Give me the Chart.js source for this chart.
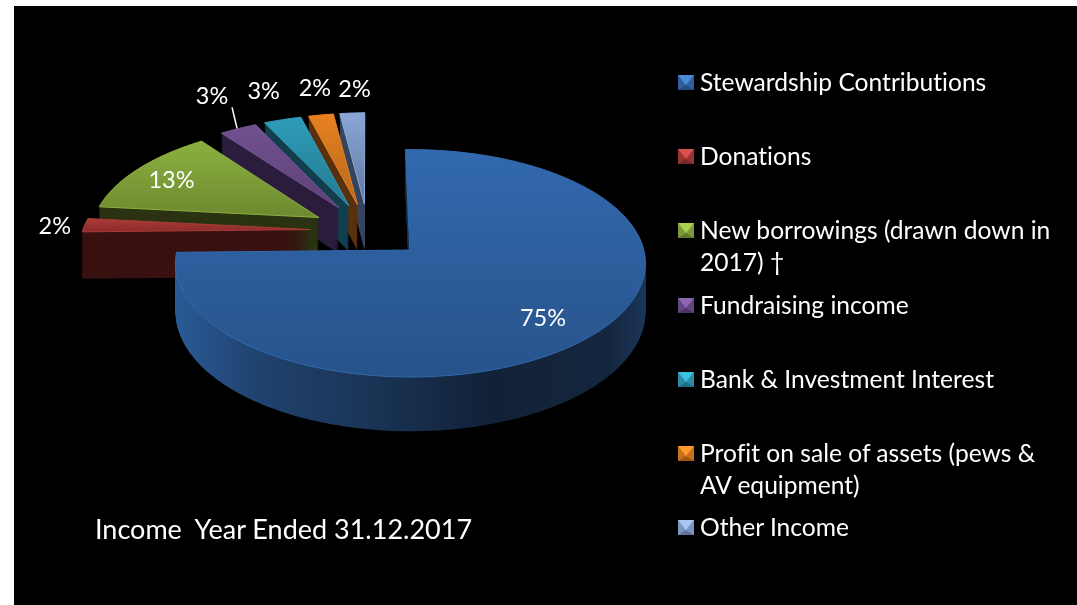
<!DOCTYPE html>
<html>
<head>
<meta charset="utf-8">
<title>Income Year Ended 31.12.2017</title>
<script src="https://cdn.jsdelivr.net/npm/chart.js@4"></script>
<style>
    html, body { margin: 0; padding: 0; background: #fff; overflow: hidden; }
    #fondo { position: absolute; left: 14px; top: 6px; width: 1063px; height: 599px; background: #000; }
    #myChart { position: absolute; left: 0; top: 0; }
    #titulo { position: absolute; left: 95px; top: 512px; color: #fff; font: 27px Lato, sans-serif; white-space: pre; font-variant-ligatures: none; }
    #leyenda { position: absolute; left: 678px; top: 66px; width: 382px; color: #fff; font: 24.6px/32px Lato, sans-serif; font-variant-ligatures: none; }
    .item { position: relative; padding-left: 22px; height: 74.2px; }
    .cuadro { position: absolute; left: 0; top: 9px; width: 0; height: 0; border-style: solid; border-width: 10px 8px 5px; }
</style>
</head>
<body>
<div id="fondo"></div>
<canvas id="myChart" width="1077" height="605"></canvas>
<div id="titulo"></div>
<div id="leyenda"></div>

<script>
// datos del grafico
const titulo = "Income  Year Ended 31.12.2017";
const categorias = ["Stewardship Contributions", "Donations", "New borrowings (drawn down in 2017) †", "Fundraising income", "Bank & Investment Interest", "Profit on sale of assets (pews & AV equipment)", "Other Income"];
const valores = [75, 2, 13, 3, 3, 2, 2];

// colores: cara superior (arriba / abajo), pared y leyenda
const caraArriba = ["#3269ae", "#ab3b39", "#8cb03f", "#71518f", "#2f9cb9", "#e98021", "#8aa7d7"];
const caraAbajo = ["#27538b", "#8a2c2a", "#6e8930", "#5d4177", "#237a90", "#b4691f", "#5f7aa0"];
const pared = ["#1a3557", "#3a1111", "#2b3312", "#2b1d3c", "#123f4d", "#5a300d", "#37465f"];
const cuadroClaro = ["#4a8bd6", "#d9504e", "#a8cf4d", "#8d66b3", "#3cc0e2", "#ff9a30", "#a9c6f2"];
const cuadroMedio = ["#2f5f9e", "#983533", "#7a9a38", "#624784", "#2a8aa3", "#c9701c", "#7c96c2"];
const cuadroOscuro = ["#264d80", "#752826", "#5f7829", "#4b3566", "#1f6b80", "#9c5615", "#5f7598"];

// medidas de la proyeccion 3D (perspectiva del pastel)
const RADIO = 228.5;
const EXPLOSION = 58;
const ALTO = 47;
const CENTRO_X = 368;
const CENTRO_Y = 230.7;
const APLASTADO = 0.471;
const PERSPECTIVA = 0.0005;
const INCLINACION = 0.01;

// posicion de las etiquetas: factor del radio y ajuste fino
const factorEtiqueta = [0.82, 1.12, 0.75, 1.2, 1.2, 1.25, 1.25];
const ajusteEtiqueta = [[-15, 0], [-3, 2], [-10, 0], [-8, -18], [-7, -13], [2, -7], [5, -4]];

function proyectar(arco, x, y, z) {
    let medio = (arco.startAngle + arco.endAngle) / 2;
    let u = x - arco.x + Math.cos(medio) * EXPLOSION;
    let v = y - arco.y + Math.sin(medio) * EXPLOSION;
    let s = 1 / (1 - PERSPECTIVA * v);
    return { x: CENTRO_X + u * s, y: CENTRO_Y + (APLASTADO * v - INCLINACION * u) * s + z * s };
}

// cambia arc/lineTo/moveTo del contexto para que pasen por la proyeccion
function activarProyeccion(ctx, arco, z) {
    const lineTo = CanvasRenderingContext2D.prototype.lineTo;
    const moveTo = CanvasRenderingContext2D.prototype.moveTo;
    ctx.lineTo = function(x, y) {
        let p = proyectar(arco, x, y, z);
        lineTo.call(ctx, p.x, p.y);
    };
    ctx.moveTo = function(x, y) {
        let p = proyectar(arco, x, y, z);
        moveTo.call(ctx, p.x, p.y);
    };
    ctx.arc = function(x, y, r, a0, a1, contrario) {
        let pasos = Math.max(2, Math.ceil(Math.abs(a1 - a0) * 40));
        for (let i = 0; i <= pasos; i++) {
            let a = a0 + (a1 - a0) * i / pasos;
            ctx.lineTo(x + Math.cos(a) * r, y + Math.sin(a) * r);
        }
    };
}

function desactivarProyeccion(ctx) {
    delete ctx.lineTo;
    delete ctx.moveTo;
    delete ctx.arc;
}

function degradadoCara(ctx, arco, i) {
    // el vertice tambien cuenta, si no los sectores chicos quedan con un degradado muy corto
    let vertice = proyectar(arco, arco.x, arco.y, 0);
    let arriba = vertice.y, abajo = vertice.y;
    for (let t = 0; t <= 20; t++) {
        let a = arco.startAngle + (arco.endAngle - arco.startAngle) * t / 20;
        let p = proyectar(arco, arco.x + Math.cos(a) * arco.outerRadius, arco.y + Math.sin(a) * arco.outerRadius, 0);
        arriba = Math.min(arriba, p.y);
        abajo = Math.max(abajo, p.y);
    }
    let g = ctx.createLinearGradient(0, arriba, 0, abajo);
    g.addColorStop(0, caraArriba[i]);
    g.addColorStop(1, caraAbajo[i]);
    return g;
}

function degradadoPared(ctx, i) {
    if (i !== 0) return pared[i];
    // la pared del sector grande cambia de claro a oscuro de izquierda a derecha
    let g = ctx.createLinearGradient(175, 0, 645, 0);
    g.addColorStop(0, "#2a5a96");
    g.addColorStop(0.18, "#20426e");
    g.addColorStop(0.4, "#1a3557");
    g.addColorStop(0.68, "#112137");
    g.addColorStop(0.92, "#14263e");
    g.addColorStop(1, "#1a3557");
    return g;
}

const pastel3d = {
    id: "pastel3d",
    beforeDatasetsDraw(chart) {
        let ctx = chart.ctx;
        let arcos = chart.getDatasetMeta(0).data;
        // de atras hacia adelante: el sector grande va al final
        for (let i = arcos.length - 1; i >= 0; i--) {
            let arco = arcos[i];
            let original = arco.options;
            arco.options = Object.assign({}, original, { backgroundColor: degradadoPared(ctx, i), borderWidth: 0 });
            for (let z = ALTO; z > 0; z--) {
                activarProyeccion(ctx, arco, z);
                arco.draw(ctx);
            }
            arco.options = Object.assign({}, original, { backgroundColor: degradadoCara(ctx, arco, i) });
            activarProyeccion(ctx, arco, 0);
            arco.draw(ctx);
            arco.options = original;
            desactivarProyeccion(ctx);
        }
        return false;
    },
    // afterDraw porque afterDatasetsDraw no corre si se cancela el dibujo normal
    afterDraw(chart) {
        let ctx = chart.ctx;
        let arcos = chart.getDatasetMeta(0).data;
        ctx.save();
        ctx.fillStyle = "#fff";
        ctx.font = "23.5px Lato, sans-serif";
        ctx.textAlign = "center";
        ctx.textBaseline = "middle";
        arcos.forEach((arco, i) => {
            let a = (arco.startAngle + arco.endAngle) / 2;
            let r = arco.outerRadius * factorEtiqueta[i];
            let p = proyectar(arco, arco.x + Math.cos(a) * r, arco.y + Math.sin(a) * r, 0);
            let x = p.x + ajusteEtiqueta[i][0];
            let y = p.y + ajusteEtiqueta[i][1];
            ctx.fillText(valores[i] + "%", x, y);
            // linea guia de la etiqueta del sector morado
            if (i === 3) {
                ctx.strokeStyle = "#fff";
                ctx.lineWidth = 1.5;
                ctx.beginPath();
                ctx.moveTo(x + 20, y + 11);
                ctx.lineTo(x + 25, y + 32);
                ctx.stroke();
            }
        });
        ctx.restore();
    }
};

let ctx = document.getElementById("myChart").getContext("2d");

let miGrafico = new Chart(ctx, {
    type: "pie",
    data: {
        labels: categorias,
        datasets: [{
            data: valores,
            backgroundColor: caraArriba,
            borderColor: caraArriba,
            borderWidth: 1,
            radius: RADIO,
            clip: false
        }]
    },
    options: {
        responsive: false,
        animation: false,
        plugins: {
            legend: { display: false },
            tooltip: { enabled: false }
        }
    },
    plugins: [pastel3d]
});

// titulo y leyenda como texto normal
document.getElementById("titulo").textContent = titulo;

let leyenda = document.getElementById("leyenda");
categorias.forEach((nombre, i) => {
    let item = document.createElement("div");
    item.className = "item";
    let cuadro = document.createElement("span");
    cuadro.className = "cuadro";
    cuadro.style.borderColor = cuadroClaro[i] + " " + cuadroMedio[i] + " " + cuadroOscuro[i];
    item.appendChild(cuadro);
    item.appendChild(document.createTextNode(nombre));
    leyenda.appendChild(item);
});
</script>
</body>
</html>
